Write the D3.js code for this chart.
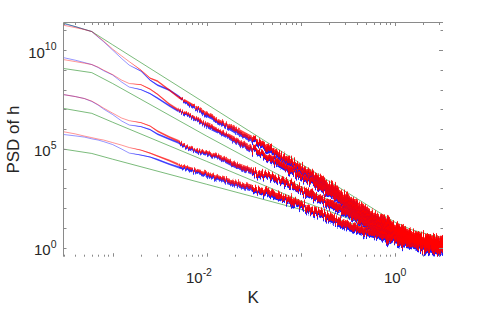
<!DOCTYPE html>
<html>
<head>
<meta charset="utf-8">
<script src="https://cdn.jsdelivr.net/npm/d3@7"></script>
<style>
  body { margin: 0; background: #fff; }
  #chart text { font-family: "Liberation Sans", Arial, Helvetica, sans-serif; fill: #262626; }
</style>
</head>
<body>
<div id="chart"></div>
<script>
const kValues = [3.0e-4, 4e-4, 5e-4, 6e-4, 7e-4, 8e-4, 1e-3, 1.25e-3, 1.5e-3, 2e-3, 2.5e-3, 3e-3,
  4e-3, 5e-3, 6e-3, 8e-3, 1e-2, 1.4e-2, 2e-2, 3e-2, 4e-2, 6e-2, 0.1, 0.15, 0.2, 0.3, 0.45, 0.65,
  1.0, 1.5, 2.2, 3.27];

// log10(PSD of h) for the four simulated surfaces, red and blue runs
const red1 = [11.26, 11.14, 11.04, 10.94, 10.68, 10.46, 10.05, 9.70, 9.42, 8.99, 8.58, 8.43, 7.98, 7.62,
  7.42, 7.07, 6.76, 6.41, 6.00, 5.55, 5.25, 4.69, 4.08, 3.58, 3.17, 2.56, 2.06, 1.60, 1.10, 0.69, 0.44, 0.29];
const blue1 = [11.34, 11.19, 11.05, 10.94, 10.66, 10.43, 10.00, 9.57, 9.24, 8.94, 8.48, 8.23, 7.98, 7.67,
  7.32, 6.97, 6.66, 6.31, 5.90, 5.45, 5.15, 4.59, 3.98, 3.48, 3.07, 2.46, 1.96, 1.50, 1.00, 0.59, 0.34, 0.19];
const red2 = [9.52, 9.42, 9.34, 9.27, 9.14, 8.99, 8.76, 8.48, 8.31, 8.25, 8.03, 7.77, 7.27, 6.97,
  6.81, 6.51, 6.23, 5.90, 5.50, 5.04, 4.74, 4.28, 3.68, 3.22, 2.82, 2.26, 1.76, 1.30, 0.95, 0.59, 0.34, 0.14];
const blue2 = [9.62, 9.49, 9.37, 9.27, 9.12, 8.96, 8.74, 8.38, 8.13, 8.00, 7.80, 7.57, 7.19, 6.91,
  6.73, 6.43, 6.15, 5.82, 5.42, 4.96, 4.66, 4.20, 3.60, 3.14, 2.74, 2.18, 1.68, 1.22, 0.87, 0.51, 0.26, 0.06];
const red3 = [7.75, 7.65, 7.55, 7.42, 7.24, 7.07, 6.81, 6.56, 6.43, 6.33, 6.16, 5.90, 5.60, 5.40,
  5.14, 4.92, 4.82, 4.59, 4.23, 3.91, 3.73, 3.48, 2.97, 2.56, 2.26, 1.86, 1.40, 1.00, 0.69, 0.44, 0.24, 0.04];
const blue3 = [7.75, 7.65, 7.55, 7.40, 7.22, 7.02, 6.74, 6.41, 6.21, 6.13, 5.98, 5.75, 5.50, 5.32,
  5.06, 4.84, 4.74, 4.51, 4.15, 3.83, 3.65, 3.40, 2.89, 2.48, 2.18, 1.78, 1.32, 0.92, 0.61, 0.36, 0.16, -0.04];
const red4 = [5.87, 5.76, 5.65, 5.57, 5.50, 5.45, 5.32, 5.19, 5.07, 4.94, 4.79, 4.64, 4.41, 4.21,
  4.08, 3.91, 3.78, 3.53, 3.30, 3.07, 2.87, 2.62, 2.21, 1.81, 1.55, 1.20, 0.90, 0.69, 0.44, 0.24, 0.04, -0.12];
const blue4 = [5.73, 5.66, 5.60, 5.51, 5.45, 5.37, 5.22, 4.99, 4.79, 4.69, 4.59, 4.46, 4.23, 4.08,
  3.98, 3.81, 3.68, 3.43, 3.20, 2.97, 2.77, 2.52, 2.11, 1.71, 1.45, 1.10, 0.80, 0.59, 0.34, 0.14, -0.06, -0.22];

// half width (in decades) of the noisy scatter around each spectrum
const scatterDec = [0, 0, 0, 0, 0, 0, 0, 0, 0, 0.02, 0.03, 0.04, 0.05, 0.06, 0.07, 0.08, 0.09,
  0.10, 0.12, 0.13, 0.15, 0.16, 0.17, 0.18, 0.19, 0.20, 0.20, 0.20, 0.22, 0.22, 0.25, 0.30];

// theoretical spectra (green), log10(PSD)
const greenK = [3.0e-4, 6.0e-4, 1e-3, 1e-2, 0.1, 1, 1.5, 2.2, 3.27];
const green1 = [11.37, 10.94, 10.27, 7.27, 4.26, 1.30, 0.92, 0.69, 0.49];
const green2 = [9.07, 8.86, 8.31, 5.65, 3.09, 0.84, 0.59, 0.42, 0.29];
const green3 = [7.05, 6.80, 6.35, 4.37, 2.38, 0.62, 0.42, 0.27, 0.14];
const green4 = [4.99, 4.77, 4.48, 3.21, 1.94, 0.62, 0.42, 0.27, 0.12];

// axis tick labels (exponents of ten)
const xLabelExps = [-2, 0];
const yLabelExps = [0, 5, 10];

(function () {
  const width = 491, height = 309;
  const left = 63.5, right = 443, top = 22.5, bottom = 256.7;

  const svg = d3.select('#chart').append('svg')
    .attr('width', width)
    .attr('height', height);

  const x = d3.scaleLog().domain([3.0e-4, 3.27]).range([left, right]);
  const y = d3.scaleLog().domain([0.351, 2.5e11]).range([bottom, top]);

  const defs = svg.append('defs');
  defs.append('clipPath').attr('id', 'plot')
    .append('rect').attr('x', left).attr('y', top).attr('width', right - left).attr('height', bottom - top);

  // zones of K where the scatter gets a jagged (noise-like) look
  const zones = [
    { id: 'z0', from: 3.0e-4, to: 5e-3, jitter: 0, fill: 0.6, stroke: 0.6 },
    { id: 'z1', from: 5e-3, to: 3e-2, jitter: 6, fill: 0.75, stroke: 0.7 },
    { id: 'z2', from: 3e-2, to: 3.27, jitter: 13, fill: 0.9, stroke: 0.75 }
  ];
  zones.forEach(z => {
    defs.append('clipPath').attr('id', 'clip-' + z.id)
      .append('rect')
      .attr('x', x(z.from)).attr('y', top)
      .attr('width', x(z.to) - x(z.from)).attr('height', bottom - top);
    if (z.jitter > 0) {
      const f = defs.append('filter').attr('id', 'jit-' + z.id)
        .attr('x', '-5%').attr('y', '-30%').attr('width', '110%').attr('height', '160%')
        .attr('color-interpolation-filters', 'sRGB');
      f.append('feTurbulence').attr('type', 'fractalNoise')
        .attr('baseFrequency', '0.9 0.03').attr('numOctaves', 2).attr('seed', 4).attr('result', 'n');
      f.append('feColorMatrix').attr('in', 'n').attr('type', 'matrix')
        .attr('values', '0 0 0 0 0.5  0 1 0 0 0  0 0 1 0 0  0 0 0 0 1').attr('result', 'm');
      f.append('feDisplacementMap').attr('in', 'SourceGraphic').attr('in2', 'm')
        .attr('scale', z.jitter).attr('xChannelSelector', 'R').attr('yChannelSelector', 'G');
    }
  });

  const g = svg.append('g').attr('clip-path', 'url(#plot)');

  // green model lines
  const greenLine = d3.line()
    .x((d, i) => x(greenK[i]))
    .y(d => y(Math.pow(10, d)));
  g.selectAll('path.green')
    .data([green1, green2, green3, green4])
    .join('path')
    .attr('class', 'green')
    .attr('d', greenLine)
    .attr('fill', 'none')
    .attr('stroke', '#3c9a3c')
    .attr('stroke-opacity', 0.85)
    .attr('stroke-width', 0.8);

  // noisy spectra: scatter band + centre line
  const band = d3.area()
    .x((d, i) => x(kValues[i]))
    .y0((d, i) => y(Math.pow(10, d - scatterDec[i])))
    .y1((d, i) => y(Math.pow(10, d + scatterDec[i])));
  const line = d3.line()
    .x((d, i) => x(kValues[i]))
    .y(d => y(Math.pow(10, d)));

  const series = [
    { vals: blue1, color: '#0000ff' }, { vals: blue2, color: '#0000ff' },
    { vals: blue3, color: '#0000ff' }, { vals: blue4, color: '#0000ff' },
    { vals: red1, color: '#ff0000' }, { vals: red2, color: '#ff0000' },
    { vals: red3, color: '#ff0000' }, { vals: red4, color: '#ff0000' }
  ];

  series.forEach(s => {
    zones.forEach(z => {
      const zg = g.append('g').attr('clip-path', `url(#clip-${z.id})`);
      const inner = zg.append('g');
      if (z.jitter > 0) inner.attr('filter', `url(#jit-${z.id})`);
      inner.append('path')
        .attr('d', band(s.vals))
        .attr('fill', s.color)
        .attr('fill-opacity', z.fill);
      inner.append('path')
        .attr('d', line(s.vals))
        .attr('fill', 'none')
        .attr('stroke', s.color)
        .attr('stroke-opacity', z.stroke)
        .attr('stroke-width', 0.7);
    });
  });

  // axes lines (left and top only, like the figure)
  const axisColor = '#8a8a8a';
  svg.append('line').attr('x1', left).attr('x2', left).attr('y1', top).attr('y2', bottom)
    .attr('stroke', axisColor);
  svg.append('line').attr('x1', left).attr('x2', right).attr('y1', top).attr('y2', top)
    .attr('stroke', axisColor);

  // x ticks: every 1..9 x 10^n, both bottom and top
  const xTicks = [];
  for (let e = -4; e <= 0; e++) {
    for (let m = 1; m <= 9; m++) {
      const k = m * Math.pow(10, e);
      if (k >= 3.0e-4 && k <= 3.27) xTicks.push({ k: k, major: m === 1 });
    }
  }
  svg.append('g').selectAll('line')
    .data(xTicks)
    .join('line')
    .attr('x1', d => Math.round(x(d.k)) + 0.5)
    .attr('x2', d => Math.round(x(d.k)) + 0.5)
    .attr('y1', bottom)
    .attr('y2', d => bottom - (d.major ? 3.5 : 2))
    .attr('stroke', axisColor);
  svg.append('g').selectAll('line')
    .data(xTicks)
    .join('line')
    .attr('x1', d => Math.round(x(d.k)) + 0.5)
    .attr('x2', d => Math.round(x(d.k)) + 0.5)
    .attr('y1', top)
    .attr('y2', d => top + (d.major ? 3.5 : 2.5))
    .attr('stroke', axisColor);

  // y ticks every decade, left and right
  const yTicks = d3.range(0, 12).map(e => ({ v: Math.pow(10, e), major: yLabelExps.includes(e) }));
  svg.append('g').selectAll('line')
    .data(yTicks)
    .join('line')
    .attr('x1', left)
    .attr('x2', left + 3)
    .attr('y1', d => Math.round(y(d.v)) + 0.5)
    .attr('y2', d => Math.round(y(d.v)) + 0.5)
    .attr('stroke', axisColor);
  svg.append('g').selectAll('line')
    .data(yTicks)
    .join('line')
    .attr('x1', right)
    .attr('x2', d => right - (d.major ? 4 : 2.5))
    .attr('y1', d => Math.round(y(d.v)) + 0.5)
    .attr('y2', d => Math.round(y(d.v)) + 0.5)
    .attr('stroke', axisColor);

  // tick labels with superscript exponents
  function addPower(sel, exp) {
    sel.append('tspan').text('10');
    sel.append('tspan').attr('dy', -7.5).style('font-size', '10.5px').text(exp);
  }

  yLabelExps.forEach(e => {
    const t = svg.append('text')
      .attr('x', 56.5)
      .attr('y', y(Math.pow(10, e)) + 7.5)
      .attr('text-anchor', 'end')
      .style('font-size', '15px');
    addPower(t, String(e));
  });

  xLabelExps.forEach(e => {
    const t = svg.append('text')
      .attr('x', x(Math.pow(10, e)) + (e < 0 ? -20.7 : -10.7))
      .attr('y', 283)
      .attr('text-anchor', 'start')
      .style('font-size', '15px');
    addPower(t, String(e));
  });

  // axis titles
  svg.append('text')
    .attr('x', (left + right) / 2)
    .attr('y', 303)
    .attr('text-anchor', 'middle')
    .style('font-size', '17px')
    .text('K');

  svg.append('text')
    .attr('transform', `translate(18.7, ${(top + bottom) / 2}) rotate(-90)`)
    .attr('text-anchor', 'middle')
    .style('font-size', '17px')
    .text('PSD of h');
})();
</script>
</body>
</html>
